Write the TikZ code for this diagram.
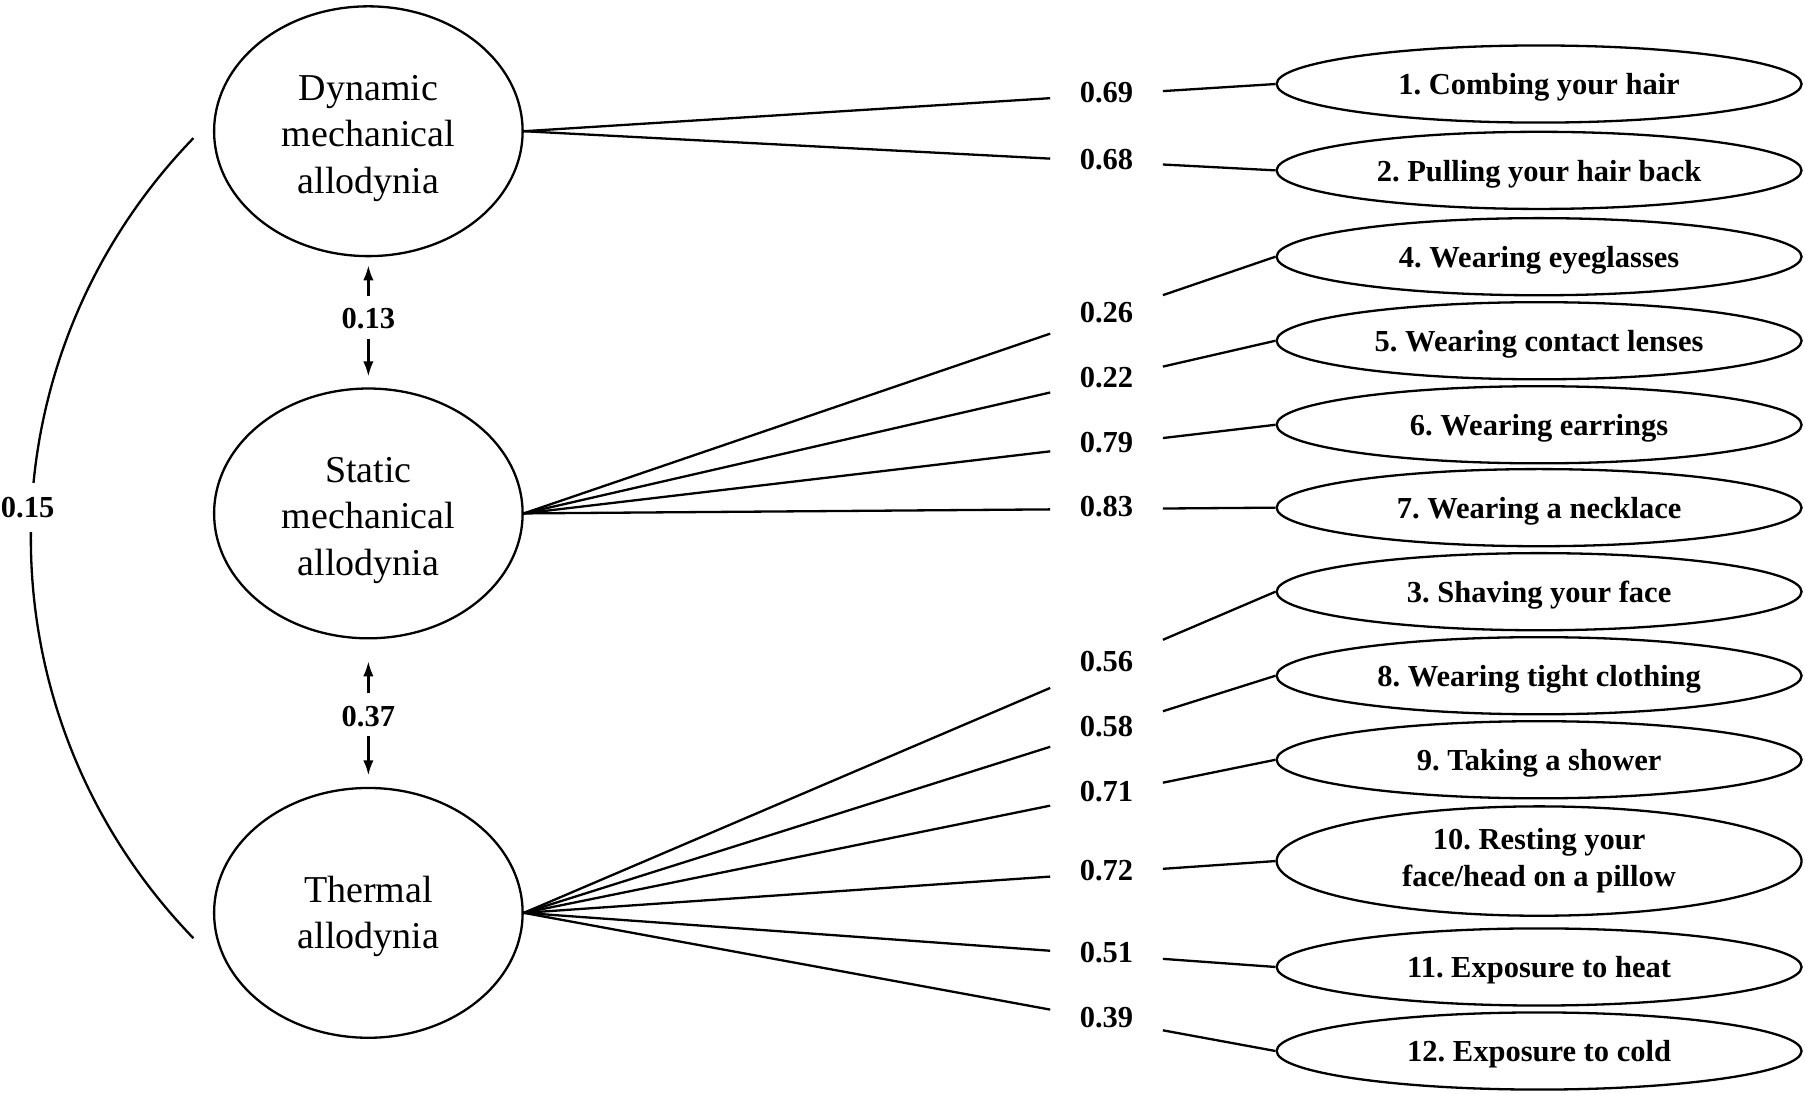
\documentclass[tikz,border=0pt]{standalone}
\usepackage{fontspec}
\setmainfont{Liberation Serif}
\usetikzlibrary{shapes.geometric,arrows.meta,calc}
\frenchspacing
\begin{document}
\begin{tikzpicture}[x=1pt,y=-1pt,
  lat/.style={ellipse, draw, line width=2pt, minimum width=268pt, minimum height=217pt,
    inner sep=0pt, align=center, font=\fontsize{33}{40.5}\selectfont},
  ind/.style={ellipse, draw, line width=2pt, minimum width=456pt, minimum height=67pt,
    inner sep=0pt, align=center, font=\bfseries\fontsize{26.5}{32}\selectfont},
  ind1/.style={ind, text height=19pt, text depth=0pt},
  coef/.style={font=\bfseries\fontsize{26.5}{30}\selectfont, inner sep=0pt},
  load/.style={line width=2pt},
  cov/.style={line width=2pt, -{Latex[length=13pt,width=9pt]}}]
\fill[white] (0,0) rectangle (1568,949.5);
\useasboundingbox (0,0) rectangle (1568,949.5);

% latent factors
\node[lat] (dyn) at (320,114) {\rule{0pt}{34pt}Dynamic\\mechanical\\allodynia};
\node[lat] (sta) at (320,446) {\rule{0pt}{34pt}Static\\mechanical\\allodynia};
\node[lat] (the) at (320,793) {\rule{0pt}{29pt}Thermal\\allodynia};

% indicators
\node[ind1] (e1) at (1337,73) {1. Combing your hair};
\node[ind1] (e2) at (1337,148) {2. Pulling your hair back};
\node[ind1] (e4) at (1337,223) {4. Wearing eyeglasses};
\node[ind1] (e5) at (1337,296) {5. Wearing contact lenses};
\node[ind1] (e6) at (1337,369) {6. Wearing earrings};
\node[ind1] (e7) at (1337,441) {7. Wearing a necklace};
\node[ind1] (e3) at (1337,514) {3. Shaving your face};
\node[ind1] (e8) at (1337,587) {8. Wearing tight clothing};
\node[ind1] (e9) at (1337,660) {9. Taking a shower};
\node[ind, minimum height=95pt] (e10) at (1337,748) {10. Resting your\\face/head on a pillow};
\node[ind1] (e11) at (1337,840) {11. Exposure to heat};
\node[ind1] (e12) at (1337,913) {12. Exposure to cold};

% loadings
\foreach \lat/\ind/\val in {dyn/e1/0.69, dyn/e2/0.68,
    sta/e4/0.26, sta/e5/0.22, sta/e6/0.79, sta/e7/0.83,
    the/e3/0.56, the/e8/0.58, the/e9/0.71, the/e10/0.72, the/e11/0.51, the/e12/0.39}{
  \draw[load] (\lat.east) -- ($(\lat.east)!0.7003!(\ind.west)$);
  \draw[load] ($(\lat.east)!0.8502!(\ind.west)$) -- (\ind.west);
  \node[coef, yshift=2pt] (v\ind) at ($(\lat.east)!0.7752!(\ind.west)$) {\val};
}

% factor covariances
\node[coef] (c13) at (320,276.6) {0.13};
\draw[cov, shorten <=10pt, shorten >=7pt] (c13) -- (dyn);
\draw[cov, shorten <=9pt, shorten >=9.5pt] (c13) -- (sta);
\node[coef] (c37) at (320,622.6) {0.37};
\draw[cov, shorten <=11pt, shorten >=19pt] (c37) -- (sta);
\draw[cov, shorten <=7.5pt, shorten >=10pt] (c37) -- (the);

\coordinate (ctop) at ($(dyn.west)+(-17,6)$);
\coordinate (cbot) at ($(the.west)+(-17,22)$);
\draw[load] (ctop) to[bend right=44] (cbot);
\node[coef, fill=white, inner xsep=2pt, inner ysep=12pt] (c15) at (24,441) {0.15};
\end{tikzpicture}
\end{document}
